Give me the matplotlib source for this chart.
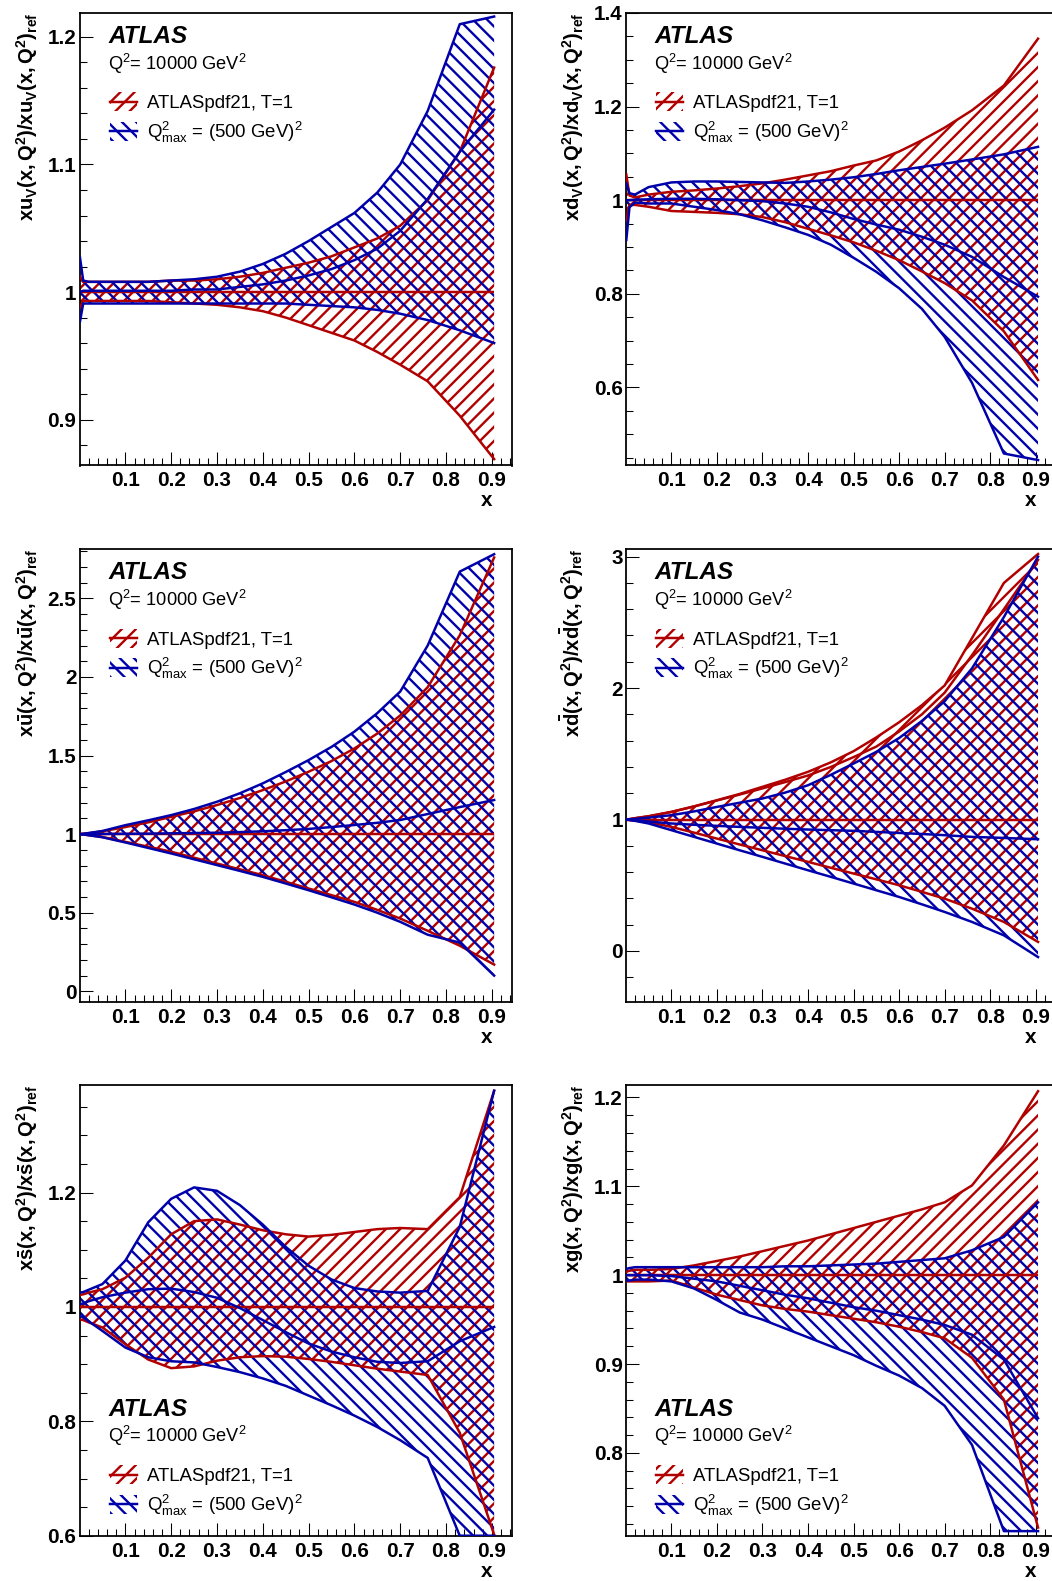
"""ATLASpdf21 T=1 vs Q2max=(500 GeV)^2 fit: PDF ratios to the reference at Q2 = 10000 GeV2."""
import matplotlib
matplotlib.use("Agg")
import matplotlib.pyplot as plt
from matplotlib.patches import Rectangle
from matplotlib.lines import Line2D
from matplotlib.ticker import MultipleLocator

W, H, DPI = 1052, 1581, 85
RED, BLUE = "#b00000", "#0000aa"
RED_HATCH, BLUE_HATCH = "//", "\\\\"
LW = 2.1

plt.rcParams.update({
    "font.family": ["Liberation Sans", "DejaVu Sans"],
    "mathtext.fontset": "custom",
    "mathtext.rm": "Liberation Sans",
    "mathtext.it": "Liberation Sans:italic",
    "mathtext.bf": "Liberation Sans:bold",
    "hatch.linewidth": 2.0,
})

# ---- data ----
X = [0.001, 0.008, 0.02, 0.05, 0.10, 0.15, 0.20, 0.25, 0.30, 0.35, 0.40, 0.45, 0.50, 0.55, 0.60, 0.65, 0.70, 0.76, 0.83, 0.905]
REF = 1.0

UV_RED_HI = [1.012, 1.008, 1.008, 1.008, 1.008, 1.008, 1.009, 1.009, 1.010, 1.012, 1.015, 1.019, 1.023, 1.028, 1.035, 1.042, 1.052, 1.072, 1.110, 1.176]
UV_RED_LO = [0.988, 0.993, 0.993, 0.993, 0.993, 0.993, 0.992, 0.991, 0.990, 0.988, 0.985, 0.980, 0.974, 0.968, 0.962, 0.953, 0.943, 0.930, 0.903, 0.869]
UV_BLUE_HI = [1.027, 1.009, 1.008, 1.008, 1.008, 1.008, 1.009, 1.010, 1.012, 1.016, 1.022, 1.030, 1.040, 1.051, 1.062, 1.078, 1.100, 1.142, 1.210, 1.216]
UV_BLUE_MID = [1.000, 1.001, 1.001, 1.001, 1.001, 1.001, 1.001, 1.002, 1.002, 1.004, 1.006, 1.009, 1.013, 1.018, 1.025, 1.034, 1.048, 1.073, 1.110, 1.143]
UV_BLUE_LO = [0.977, 0.991, 0.991, 0.991, 0.991, 0.991, 0.991, 0.991, 0.991, 0.991, 0.991, 0.991, 0.990, 0.989, 0.988, 0.986, 0.983, 0.978, 0.970, 0.960]

DV_RED_HI = [1.055, 1.010, 1.006, 1.012, 1.018, 1.021, 1.025, 1.030, 1.036, 1.044, 1.053, 1.062, 1.074, 1.085, 1.104, 1.128, 1.155, 1.192, 1.245, 1.345]
DV_RED_LO = [0.957, 0.990, 0.990, 0.986, 0.977, 0.975, 0.973, 0.970, 0.964, 0.953, 0.939, 0.925, 0.910, 0.892, 0.872, 0.848, 0.823, 0.786, 0.720, 0.616]
DV_BLUE_HI = [1.036, 1.015, 1.012, 1.028, 1.038, 1.040, 1.040, 1.039, 1.038, 1.037, 1.040, 1.044, 1.049, 1.056, 1.064, 1.071, 1.078, 1.087, 1.098, 1.114]
DV_BLUE_MID = [1.000, 1.000, 1.001, 1.002, 1.003, 1.003, 1.002, 1.000, 0.998, 0.993, 0.986, 0.974, 0.960, 0.948, 0.937, 0.922, 0.905, 0.879, 0.836, 0.794]
DV_BLUE_LO = [0.915, 0.985, 0.995, 0.993, 0.993, 0.986, 0.979, 0.970, 0.957, 0.942, 0.926, 0.905, 0.877, 0.847, 0.812, 0.768, 0.708, 0.610, 0.459, 0.445]

UB_RED_HI = [1.000, 1.002, 1.006, 1.018, 1.045, 1.075, 1.110, 1.145, 1.185, 1.230, 1.280, 1.335, 1.397, 1.465, 1.545, 1.640, 1.755, 1.935, 2.265, 2.760]
UB_RED_LO = [1.000, 0.998, 0.993, 0.982, 0.951, 0.920, 0.888, 0.850, 0.813, 0.776, 0.739, 0.697, 0.654, 0.612, 0.569, 0.518, 0.463, 0.385, 0.290, 0.170]
UB_BLUE_HI = [1.000, 1.002, 1.007, 1.020, 1.057, 1.088, 1.121, 1.160, 1.206, 1.260, 1.323, 1.395, 1.471, 1.555, 1.652, 1.770, 1.907, 2.200, 2.670, 2.781]
UB_BLUE_MID = [1.000, 1.000, 1.000, 1.001, 1.002, 1.003, 1.005, 1.007, 1.009, 1.013, 1.018, 1.025, 1.033, 1.045, 1.058, 1.072, 1.090, 1.128, 1.172, 1.217]
UB_BLUE_LO = [1.000, 0.998, 0.993, 0.980, 0.947, 0.912, 0.877, 0.840, 0.803, 0.766, 0.728, 0.686, 0.643, 0.598, 0.552, 0.500, 0.442, 0.360, 0.310, 0.100]

DB_RED_HI = [1.000, 1.003, 1.010, 1.025, 1.058, 1.100, 1.147, 1.195, 1.249, 1.303, 1.363, 1.435, 1.520, 1.625, 1.740, 1.870, 2.020, 2.380, 2.800, 3.020]
DB_RED_HI_CURVE = [1.000, 1.003, 1.010, 1.025, 1.058, 1.100, 1.145, 1.190, 1.237, 1.285, 1.335, 1.400, 1.475, 1.555, 1.670, 1.800, 1.965, 2.250, 2.600, 2.975]
DB_RED_LO = [1.000, 0.998, 0.992, 0.980, 0.944, 0.900, 0.855, 0.810, 0.766, 0.722, 0.678, 0.633, 0.589, 0.545, 0.500, 0.450, 0.398, 0.322, 0.221, 0.069]
DB_BLUE_HI = [1.000, 1.002, 1.005, 1.015, 1.033, 1.062, 1.096, 1.128, 1.160, 1.205, 1.261, 1.340, 1.426, 1.515, 1.620, 1.750, 1.900, 2.150, 2.540, 3.000]
DB_BLUE_MID = [1.000, 0.998, 0.994, 0.985, 0.970, 0.960, 0.952, 0.944, 0.937, 0.930, 0.924, 0.919, 0.914, 0.906, 0.898, 0.890, 0.881, 0.868, 0.860, 0.850]
DB_BLUE_LO = [1.000, 0.996, 0.990, 0.970, 0.919, 0.868, 0.817, 0.766, 0.716, 0.665, 0.614, 0.564, 0.513, 0.462, 0.411, 0.355, 0.297, 0.221, 0.119, -0.046]

SB_RED_HI = [1.021, 1.022, 1.025, 1.031, 1.051, 1.086, 1.127, 1.150, 1.153, 1.144, 1.134, 1.127, 1.123, 1.126, 1.131, 1.136, 1.138, 1.136, 1.192, 1.378]
SB_RED_LO = [0.978, 0.977, 0.973, 0.964, 0.935, 0.908, 0.893, 0.896, 0.906, 0.912, 0.914, 0.913, 0.909, 0.904, 0.898, 0.892, 0.887, 0.881, 0.780, 0.602]
SB_BLUE_HI = [1.025, 1.026, 1.030, 1.040, 1.081, 1.148, 1.189, 1.209, 1.203, 1.178, 1.144, 1.105, 1.072, 1.048, 1.033, 1.027, 1.025, 1.028, 1.140, 1.378]
SB_BLUE_MID = [1.005, 1.006, 1.010, 1.017, 1.025, 1.031, 1.032, 1.026, 1.016, 0.998, 0.977, 0.956, 0.936, 0.922, 0.912, 0.904, 0.902, 0.905, 0.940, 0.965]
SB_BLUE_LO = [0.984, 0.982, 0.975, 0.958, 0.929, 0.912, 0.905, 0.903, 0.895, 0.886, 0.875, 0.862, 0.845, 0.828, 0.810, 0.790, 0.767, 0.736, 0.600, 0.600]

G_RED_HI = [1.004, 1.005, 1.006, 1.006, 1.007, 1.011, 1.016, 1.021, 1.027, 1.033, 1.039, 1.046, 1.053, 1.060, 1.067, 1.074, 1.082, 1.101, 1.146, 1.207]
G_RED_LO = [0.993, 0.993, 0.993, 0.993, 0.994, 0.986, 0.978, 0.972, 0.966, 0.962, 0.959, 0.955, 0.951, 0.947, 0.942, 0.936, 0.929, 0.907, 0.860, 0.716]
G_BLUE_HI = [1.007, 1.008, 1.009, 1.009, 1.009, 1.009, 1.009, 1.009, 1.009, 1.010, 1.010, 1.011, 1.012, 1.013, 1.015, 1.017, 1.019, 1.028, 1.043, 1.082]
G_BLUE_MID = [1.000, 1.000, 1.000, 1.000, 0.999, 0.996, 0.993, 0.988, 0.983, 0.978, 0.974, 0.969, 0.964, 0.960, 0.955, 0.950, 0.944, 0.933, 0.905, 0.839]
G_BLUE_LO = [0.994, 0.994, 0.995, 0.995, 0.993, 0.985, 0.972, 0.958, 0.950, 0.940, 0.930, 0.920, 0.910, 0.898, 0.887, 0.873, 0.853, 0.809, 0.712, 0.712]

XTICKS = [0.1, 0.2, 0.3, 0.4, 0.5, 0.6, 0.7, 0.8, 0.9]
LEG_RED = "ATLASpdf21, T=1"
LEG_BLUE = r"$\mathregular{Q^{2}_{max}}$ = (500 GeV)$^{2}$"
Q2_TEXT = r"Q$^{2}$= 10000 GeV$^{2}$"

PANELS = [
    dict(ylabel=r"$\mathbf{xu_{V}(x,Q^{2})/xu_{V}(x,Q^{2})_{ref}}$", red=(UV_RED_LO, UV_RED_HI),
         blue=(UV_BLUE_LO, UV_BLUE_MID, UV_BLUE_HI), ylim=(0.864, 1.219), yticks=[0.9, 1.0, 1.1, 1.2], yminor=0.02),
    dict(ylabel=r"$\mathbf{xd_{V}(x,Q^{2})/xd_{V}(x,Q^{2})_{ref}}$", red=(DV_RED_LO, DV_RED_HI),
         blue=(DV_BLUE_LO, DV_BLUE_MID, DV_BLUE_HI), ylim=(0.4334, 1.4005), yticks=[0.6, 0.8, 1.0, 1.2, 1.4], yminor=0.05),
    dict(ylabel=r"$\mathbf{x\bar{u}(x,Q^{2})/x\bar{u}(x,Q^{2})_{ref}}$", red=(UB_RED_LO, UB_RED_HI),
         blue=(UB_BLUE_LO, UB_BLUE_MID, UB_BLUE_HI), ylim=(-0.068, 2.814), yticks=[0, 0.5, 1, 1.5, 2, 2.5], yminor=0.1),
    dict(ylabel=r"$\mathbf{x\bar{d}(x,Q^{2})/x\bar{d}(x,Q^{2})_{ref}}$", red=(DB_RED_LO, DB_RED_HI),
         blue=(DB_BLUE_LO, DB_BLUE_MID, DB_BLUE_HI), ylim=(-0.388, 3.058), yticks=[0, 1, 2, 3], yminor=0.2,
         extra_red=DB_RED_HI_CURVE),
    dict(ylabel=r"$\mathbf{x\bar{s}(x,Q^{2})/x\bar{s}(x,Q^{2})_{ref}}$", red=(SB_RED_LO, SB_RED_HI),
         blue=(SB_BLUE_LO, SB_BLUE_MID, SB_BLUE_HI), ylim=(0.5995, 1.388), yticks=[0.6, 0.8, 1.0, 1.2], yminor=0.05),
    dict(ylabel=r"$\mathbf{xg(x,Q^{2})/xg(x,Q^{2})_{ref}}$", red=(G_RED_LO, G_RED_HI),
         blue=(G_BLUE_LO, G_BLUE_MID, G_BLUE_HI), ylim=(0.7065, 1.214), yticks=[0.8, 0.9, 1.0, 1.1, 1.2], yminor=0.02),
]

# axes boxes in pixels: (left, width) per column, (top, height) per row
COLS = [(80.0, 432.0), (626.3, 429.5)]
ROWS = [(12.7, 452.8), (549.0, 453.0), (1085.0, 451.0)]
ATLAS_DY = [30.3, 30.3, 330.7]   # ATLAS baseline below the axes top, px


def text_block(ax, w, h, dy):
    fx = lambda p: p / w
    fy = lambda p: 1 - p / h
    ax.text(fx(28), fy(dy), "ATLAS", transform=ax.transAxes, fontsize=20.5,
            fontweight="bold", fontstyle="italic", va="baseline")
    ax.text(fx(28), fy(dy + 26.5), Q2_TEXT, transform=ax.transAxes, fontsize=15.5, va="baseline")
    for k, (c, hatch, lab) in enumerate([(RED, RED_HATCH, LEG_RED), (BLUE, BLUE_HATCH, LEG_BLUE)]):
        base = dy + 65.5 + 29.5 * k
        mid = base - 6.7
        ax.add_patch(Rectangle((fx(30), fy(mid + 9.5)), fx(27), 19 / h, transform=ax.transAxes,
                               facecolor="none", edgecolor=c, hatch=hatch, lw=0, clip_on=False))
        ax.add_line(Line2D([fx(30), fx(57)], [fy(mid), fy(mid)], transform=ax.transAxes, color=c, lw=LW))
        ax.text(fx(67), fy(base), lab, transform=ax.transAxes, fontsize=15.8, va="baseline")


fig = plt.figure(figsize=(W / DPI, H / DPI), dpi=DPI)
for i, p in enumerate(PANELS):
    (left, w), (top, h) = COLS[i % 2], ROWS[i // 2]
    ax = fig.add_axes([left / W, 1 - (top + h) / H, w / W, h / H])

    rlo, rhi = p["red"]
    blo, bmid, bhi = p["blue"]
    ax.fill_between(X, rlo, rhi, facecolor="none", edgecolor=RED, hatch=RED_HATCH, lw=0, zorder=2)
    ax.fill_between(X, blo, bhi, facecolor="none", edgecolor=BLUE, hatch=BLUE_HATCH, lw=0, zorder=2)
    for y in (rlo, rhi):
        ax.plot(X, y, color=RED, lw=LW, zorder=3)
    if "extra_red" in p:
        ax.plot(X, p["extra_red"], color=RED, lw=LW, zorder=3)
    ax.hlines(REF, X[0], X[-1], color=RED, lw=LW, zorder=3)
    for y in (blo, bmid, bhi):
        ax.plot(X, y, color=BLUE, lw=LW, zorder=4)

    ax.set_xlim(0.001, 0.944)
    ax.set_ylim(*p["ylim"])
    ax.set_xticks(XTICKS, labels=[f"{t:g}" for t in XTICKS], fontweight="bold", fontsize=17.5)
    ax.set_yticks(p["yticks"], labels=[f"{t:g}" for t in p["yticks"]], fontweight="bold", fontsize=17.5)
    ax.xaxis.set_minor_locator(MultipleLocator(0.02))
    ax.yaxis.set_minor_locator(MultipleLocator(p["yminor"]))
    ax.tick_params(which="both", direction="in", top=False, right=False, width=0.9)
    ax.tick_params(which="major", length=11)
    ax.tick_params(which="minor", length=6)
    ax.tick_params(axis="x", pad=5)
    ax.tick_params(axis="y", pad=3)
    for s in ax.spines.values():
        s.set_linewidth(1.5)

    ax.set_ylabel(p["ylabel"], fontsize=17, loc="top")
    ax.yaxis.set_label_coords(-40 / w, 1.0)
    ax.set_xlabel("x", fontsize=17.5, fontweight="bold", loc="right")
    ax.xaxis.set_label_coords(0.955, -26 / h)

    text_block(ax, w, h, ATLAS_DY[i // 2])

fig.savefig("out.png", dpi=DPI)
